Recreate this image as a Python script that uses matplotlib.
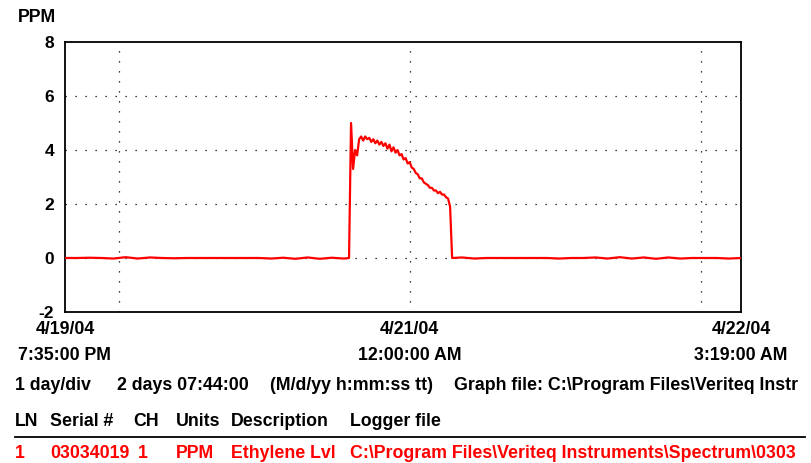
import matplotlib
matplotlib.use("Agg")
import matplotlib.pyplot as plt
import matplotlib.transforms as mtransforms
import pandas as pd

# ---- data -------------------------------------------------------------
t_start = pd.Timestamp("2004-04-19 19:35")
t_end = pd.Timestamp("2004-04-22 03:19")

# hourly readings before the event (from 4/19 7:35 PM)
pre_values = [0.0, 0.0, 0.01, 0.0, -0.02, 0.03, -0.02, 0.02, 0.0, -0.01, 0.0, 0.0,
              0.0, 0.0, 0.0, 0.0, 0.0, -0.02, 0.01, -0.03, 0.02, -0.03, 0.01, -0.02]

# 10-minute readings during the ethylene event (from 4/20 7:00 PM)
event_values = [0.0, 5.0, 3.3, 4.0, 3.8, 4.4, 4.5, 4.35, 4.5, 4.4,
                4.45, 4.3, 4.4, 4.25, 4.35, 4.2, 4.3, 4.15, 4.25, 4.05,
                4.2, 3.95, 4.1, 3.9, 4.0, 3.8, 3.85, 3.65, 3.7, 3.5,
                3.55, 3.35, 3.3, 3.15, 3.1, 2.95, 2.95, 2.8, 2.75, 2.7,
                2.6, 2.6, 2.5, 2.5, 2.4, 2.45, 2.35, 2.35, 2.25, 2.2,
                1.9, 0.0]

# hourly readings after the event (from 4/21 4:19 AM)
post_values = [0.02, -0.02, 0.0, 0.0, 0.0, 0.0, 0.0, 0.0, -0.02, 0.0, 0.0, 0.02,
               -0.02, 0.03, -0.02, 0.02, -0.03, 0.02, -0.02, 0.0, 0.0, 0.0, -0.02, 0.0]

y_ticks = [-2, 0, 2, 4, 6, 8]
x_labels = [("4/19/04", "7:35:00 PM", "2004-04-19 19:35"),
            ("4/21/04", "12:00:00 AM", "2004-04-21 00:00"),
            ("4/22/04", "3:19:00 AM", "2004-04-22 03:19")]
day_lines = ["2004-04-20", "2004-04-21", "2004-04-22"]

# texts as visible in the reference (cut by the window edge there)
info_row = [("1 day/div", 15), ("2 days 07:44:00", 117), ("(M/d/yy h:mm:ss tt)", 270),
            (r"Graph file: C:\Program Files\Veriteq Instr", 454)]
header_row = [("LN", 15), ("Serial #", 50), ("CH", 133), ("Units", 176),
              ("Description", 231), ("Logger file", 350)]
data_row = [("1", 15), ("03034019", 50), ("1", 138), ("PPM", 176),
            ("Ethylene Lvl", 231), (r"C:\Program Files\Veriteq Instruments\Spectrum\0303", 350)]

# ---- build series -------------------------------------------------------
pre_t = pd.date_range(t_start, periods=len(pre_values), freq="60min")
ev_t = pd.date_range("2004-04-20 19:00", periods=len(event_values), freq="10min")
post_t = pd.date_range("2004-04-21 04:19", periods=len(post_values), freq="60min")
times = pre_t.append(ev_t).append(post_t)
values = pre_values + event_values + post_values

# ---- figure -------------------------------------------------------------
FONT = ["Liberation Sans", "DejaVu Sans"]
plt.rcParams["font.family"] = FONT
FS = 12.8
W, H = 812, 463
fig = plt.figure(figsize=(W / 100, H / 100), dpi=100)
fig.patch.set_facecolor("white")
ax = fig.add_axes([65 / W, 1 - 312 / H, (741 - 65) / W, (312 - 42) / H])

ax.plot(times, values, color="#ff0000", lw=1.6, zorder=3)
ax.set_xlim(t_start, t_end)
ax.set_ylim(-2, 8)

dot = (0, (1, 7))
for y in [0, 2, 4, 6]:
    ax.axhline(y, color="black", lw=0.9, linestyle=dot, zorder=1)
for d in day_lines:
    ax.axvline(pd.Timestamp(d), color="black", lw=0.9, linestyle=dot, zorder=1)

ax.set_yticks(y_ticks)
ax.set_yticklabels([str(v) for v in y_ticks], fontsize=12.5, fontweight="bold")
ax.tick_params(axis="y", length=0, pad=8)
ax.set_xticks([])
for s in ax.spines.values():
    s.set_color("black")
    s.set_linewidth(1.3)

trans = mtransforms.blended_transform_factory(ax.transData, fig.transFigure)
for l1, l2, tt in x_labels:
    x = pd.Timestamp(tt)
    ax.text(x, 1 - 330 / H, l1, transform=trans, ha="center", va="center",
            fontsize=FS, fontweight="bold")
    ax.text(x, 1 - 355 / H, l2, transform=trans, ha="center", va="center",
            fontsize=FS, fontweight="bold")

fig.text(18 / W, 1 - 18 / H, "PPM", ha="left", va="center", fontsize=FS, fontweight="bold")

for txt, x in info_row:
    fig.text(x / W, 1 - 386 / H, txt, ha="left", va="center", fontsize=FS, fontweight="bold")
for txt, x in header_row:
    fig.text(x / W, 1 - 422 / H, txt, ha="left", va="center", fontsize=FS, fontweight="bold")
fig.add_artist(plt.Line2D([15 / W, 805 / W], [1 - 437 / H, 1 - 437 / H],
                          transform=fig.transFigure, color="black", lw=1.3))
for txt, x in data_row:
    fig.text(x / W, 1 - 453 / H, txt, ha="left", va="center", fontsize=FS,
             fontweight="bold", color="#ff0000")

fig.savefig("out.png", dpi=100)
